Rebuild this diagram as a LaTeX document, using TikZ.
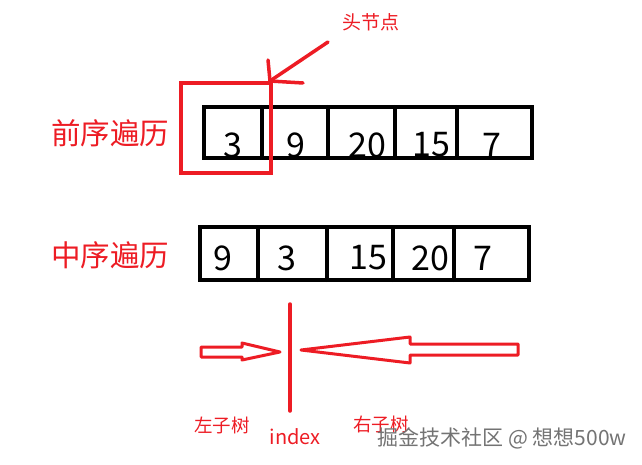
\documentclass[tikz,border=0pt]{standalone}
\usepackage{fontspec}
\setmainfont{Noto Sans CJK SC}
\usetikzlibrary{positioning}
\definecolor{hotred}{rgb}{0.93,0.11,0.14}
\definecolor{markgray}{rgb}{0.45,0.45,0.45}

\begin{document}
\begin{tikzpicture}[line cap=round,line join=miter, x=1pt,y=-1pt,
  cell/.style={line width=4pt},
  digit/.style={inner sep=0pt, font=\fontsize{34}{34}\selectfont},
  redlabel/.style={inner sep=0pt, text=hotred},
  redline/.style={line width=3.5pt, draw=hotred}]
\useasboundingbox (0,0) rectangle (642,465);
% preorder row
\node [redlabel, font=\fontsize{29.5}{29.5}\selectfont] (pre) at (110,133) {前序遍历};
\draw [cell] (204,107) rectangle (532,158);
\foreach \x in {262,328,395,457} \draw [cell] (\x,107) -- (\x,158);
\node [digit] (p1) at (233,145) {3};
\node [digit] (p2) at (296,145) {9};
\node [digit] (p3) at (367,145) {20};
\node [digit] (p4) at (431,145) {15};
\node [digit] (p5) at (492,145) {7};
% head node mark
\draw [redline] (181,83) rectangle (271,173);
\node [redlabel, font=\fontsize{19}{19}\selectfont] (head) at (371,22) {头节点};
\coordinate (tail) at (328,42);
\coordinate (tip) at (270,81);
\draw [redline] (tail) -- (tip);
\draw [redline, line join=round] (268,60) -- (tip) -- (303,83);
% inorder row
\node [redlabel, font=\fontsize{29.5}{29.5}\selectfont] (in) at (110,255) {中序遍历};
\draw [cell] (200,227) rectangle (529,280);
\foreach \x in {258,327,393,454} \draw [cell] (\x,227) -- (\x,280);
\node [digit] (i1) at (223,258) {9};
\node [digit] (i2) at (287,258) {3};
\node [digit] (i3) at (368,258) {15};
\node [digit] (i4) at (430,258) {20};
\node [digit] (i5) at (483,258) {7};
% index split
\draw [redline] (290,304) -- (290,411);
\draw [redline, line width=3pt, line join=round] (201,347) -- (242,347) -- (242,343) -- (280,352)
  -- (242,360) -- (242,357) -- (201,357) -- cycle;
\draw [redline, line width=3pt, line join=round] (518,344) -- (410,344) -- (410,337) -- (301,350)
  -- (410,363) -- (410,355) -- (518,355) -- cycle;
\node [redlabel, font=\fontsize{18.5}{18.5}\selectfont] (left) at (222,425) {左子树};
\node [redlabel, font=\fontsize{20}{20}\selectfont] (idx) at (295,437) {index};
\node [redlabel, font=\fontsize{18.5}{18.5}\selectfont] (right) at (381,424) {右子树};
% watermark
\node [inner sep=0pt, text=markgray, font=\fontsize{21}{21}\selectfont] (mark) at (502,438) {掘金技术社区 @ 想想500w};
\end{tikzpicture}
\end{document}
